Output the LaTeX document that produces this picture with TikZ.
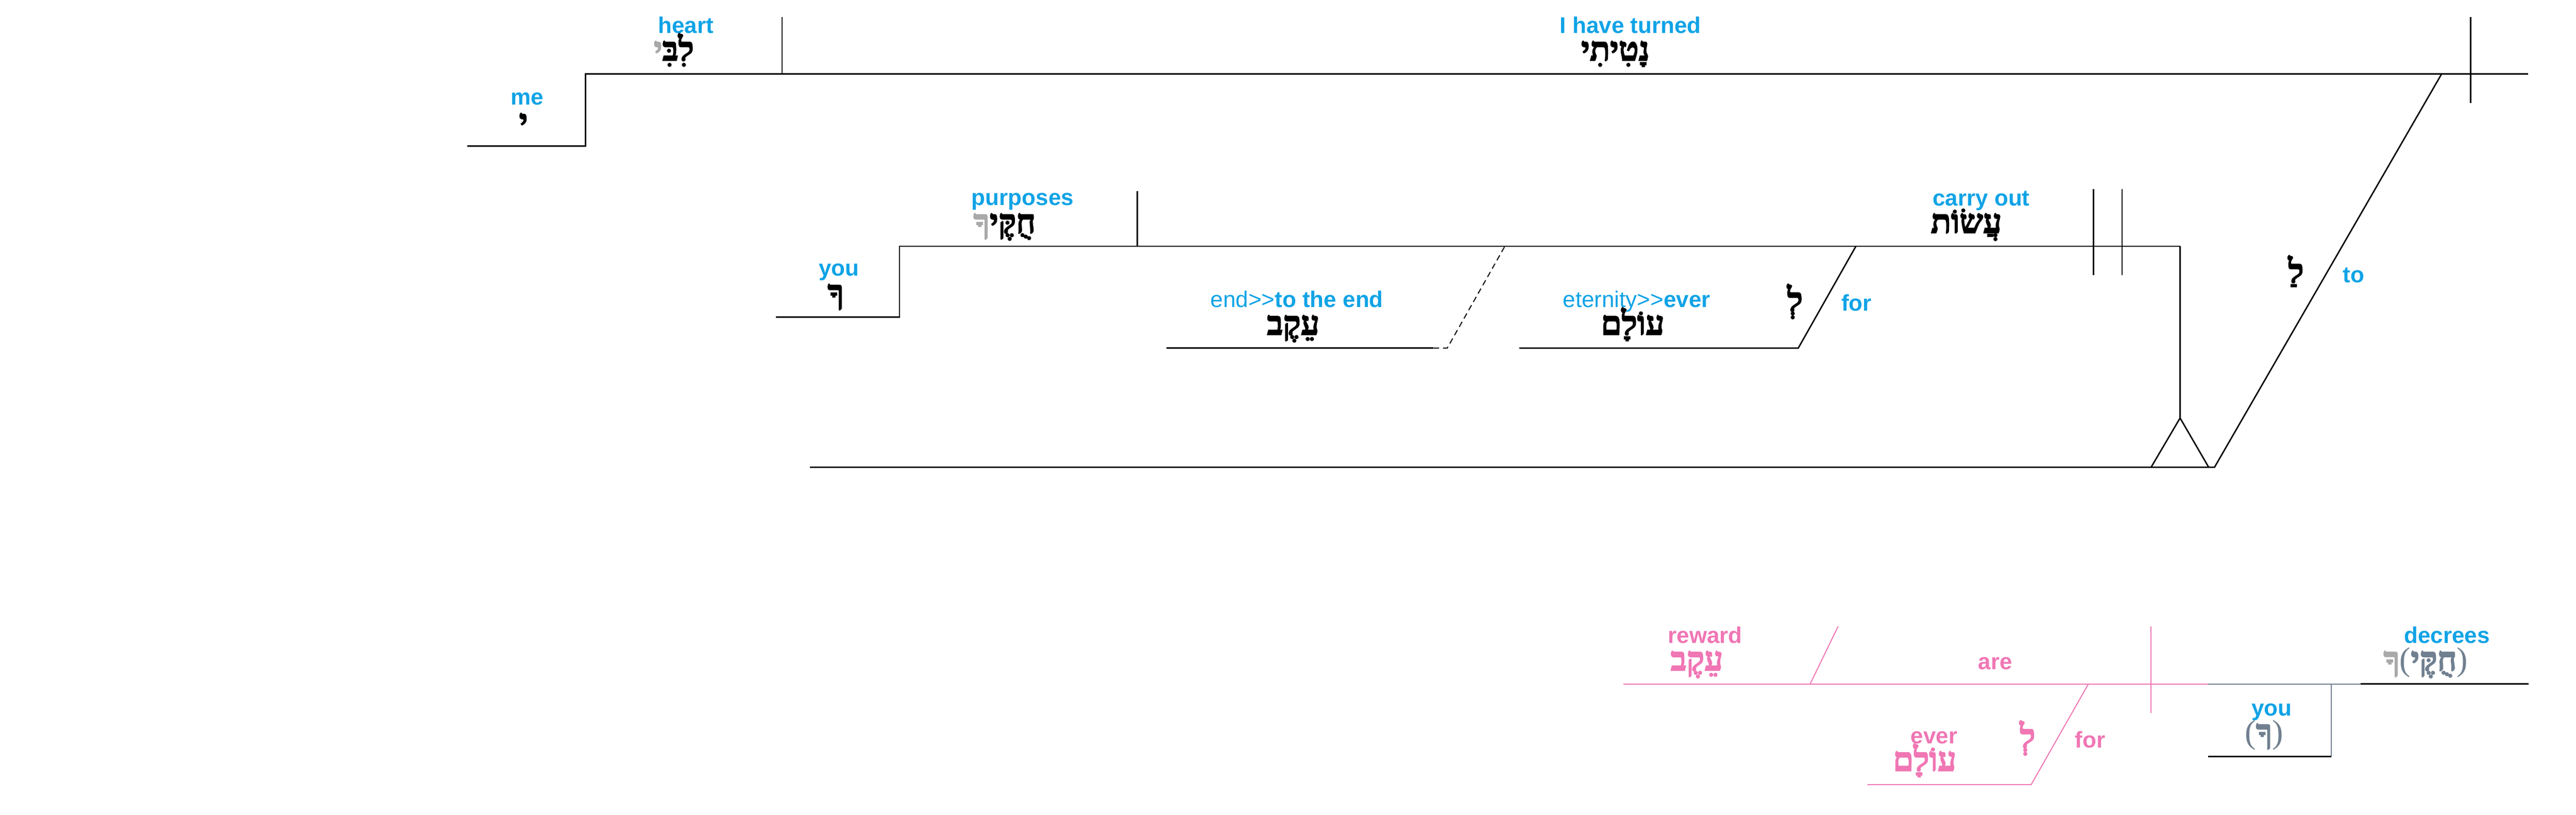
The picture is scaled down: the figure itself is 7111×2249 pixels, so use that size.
\documentclass[tikz,border=0pt]{standalone}
\usepackage{fontspec}
\setmainfont{Liberation Sans}
\newfontfamily\hebfont[Script=Hebrew,FakeBold=3]{Liberation Serif Bold}
\newfontfamily\parfont{Liberation Serif}
\TeXXeTstate=1
\definecolor{lblue}{RGB}{16,163,230}
\definecolor{lpink}{RGB}{240,118,180}
\definecolor{lslate}{RGB}{112,128,144}
\definecolor{lgray}{RGB}{169,169,169}
\newcommand\heb[1]{{\hebfont\beginR#1\endR}}
\newcommand\lpar{{\parfont(}}
\newcommand\rpar{{\parfont)}}
\tikzset{
  en/.style={anchor=base, inner sep=0pt, text=lblue, font=\fontsize{17.8}{20}\selectfont\bfseries},
  enpk/.style={en, text=lpink},
  he/.style={anchor=base, inner sep=0pt, font=\fontsize{26}{30}\selectfont},
  hepk/.style={he, text=lpink},
  ln/.style={line width=1.1pt, black},
  pk/.style={line width=0.8pt, lpink},
  sl/.style={line width=0.8pt, lslate},
  dsh/.style={line width=0.8pt, black, dash pattern=on 4.5pt off 3pt}
}
\begin{document}
\begin{tikzpicture}[x=0.01cm, y=-0.01cm]
\useasboundingbox (0,0) rectangle (7111,2249);
% ---------- coordinates: top clause ----------
\coordinate (meL) at (1290,403);
\coordinate (meR) at (1616,403);
\coordinate (mainL) at (1616,204);
\coordinate (mainR) at (6978,204);
\coordinate (dvT) at (2159,47);
\coordinate (dvB) at (2159,204);
\coordinate (crT) at (6820,47);
\coordinate (crB) at (6820,284);
\coordinate (toT) at (6740,204);
\coordinate (toB) at (6113,1290);
\coordinate (baseL) at (2236,1290);
\coordinate (triL) at (5938,1290);
\coordinate (triA) at (6018,1154);
\coordinate (triR) at (6097,1290);
% ---------- middle clause ----------
\coordinate (youL) at (2142,875);
\coordinate (youR) at (2483,875);
\coordinate (midL) at (2483,680);
\coordinate (midR) at (6018,680);
\coordinate (dv2T) at (3139,527);
\coordinate (dv2B) at (3139,680);
\coordinate (d1T) at (5779,522);
\coordinate (d1B) at (5779,759);
\coordinate (d2T) at (5858,522);
\coordinate (d2B) at (5858,759);
\coordinate (forT) at (5123,680);
\coordinate (forB) at (4964,961);
\coordinate (eterL) at (4194,961);
\coordinate (endL) at (3220,961);
\coordinate (endR) at (3957,961);
\coordinate (dsB) at (3995,961);
\coordinate (dsT) at (4154,680);
% ---------- bottom clause ----------
\coordinate (pkL) at (4481,1888);
\coordinate (pkR) at (6096,1888);
\coordinate (slR) at (6516,1888);
\coordinate (bkR) at (6980,1888);
\coordinate (rwT) at (5074,1729);
\coordinate (rwB) at (4997,1888);
\coordinate (pvT) at (5937,1729);
\coordinate (pvB) at (5937,1968);
\coordinate (f2T) at (5765,1888);
\coordinate (f2B) at (5607,2166);
\coordinate (evL) at (5155,2166);
\coordinate (y2T) at (6436,1888);
\coordinate (y2B) at (6436,2088);
\coordinate (y2L) at (6096,2088);

% ---------- lines ----------
\draw[ln] (meL) -- (meR) -- (mainL) -- (mainR);
\draw[ln] (dvT) -- (dvB);
\draw[ln] (crT) -- (crB);
\draw[ln] (toT) -- (toB) -- (baseL);
\draw[ln] (triL) -- (triA) -- (triR);
\draw[ln] (midR) -- (triA);
\draw[ln] (youL) -- (youR) -- (midL) -- (midR);
\draw[ln] (dv2T) -- (dv2B);
\draw[ln] (d1T) -- (d1B);
\draw[ln] (d2T) -- (d2B);
\draw[ln] (forT) -- (forB) -- (eterL);
\draw[ln] (endL) -- (endR);
\draw[dsh] (endR) -- (dsB) -- (dsT);
\draw[pk] (pkL) -- (pkR);
\draw[sl] (pkR) -- (slR);
\draw[ln] (slR) -- (bkR);
\draw[pk] (rwT) -- (rwB);
\draw[pk] (pvT) -- (pvB);
\draw[pk] (f2T) -- (f2B) -- (evL);
\draw[sl] (y2T) -- (y2B);
\draw[ln] (y2L) -- (y2B);

% ---------- labels: top clause ----------
\node[en] (meEn) at (1455,290) {me};
\node[he] (meHe) at (1445,366) {\heb{י}};
\node[en] (heartEn) at (1893,92) {heart};
\node[he] (heartHe) at (1860,167) {{\color{lgray}\heb{י}}\heb{לִבִּ}};
\node[en] (turnedEn) at (4501,92) {I have turned};
\node[he] (turnedHe) at (4459,167) {\heb{נָטִיתִי}};
\node[he] (toHe) at (6338,780) {\heb{לַ}};
\node[en] (toEn) at (6497,780) {to};
% ---------- middle clause ----------
\node[en] (youEn) at (2316,762) {you};
\node[he] (youHe) at (2307,838) {\heb{ךָ}};
\node[en] (purpEn) at (2823,567) {purposes};
\node[he] (purpHe) at (2773,643) {{\color{lgray}\heb{ךָ}}\heb{חֻקֶּי}};
\node[en] (carryEn) at (5469,568) {carry out};
\node[he] (carryHe) at (5428,643) {\heb{עֲשׂוֹת}};
\node[en] (endEn) at (3580,849) {\mdseries end>\kern0pt>\bfseries to the end};
\node[he] (endHe) at (3570,924) {\heb{עֵקֶב}};
\node[en] (eterEn) at (4518,849) {\mdseries eternity>\kern0pt>\bfseries ever};
\node[he] (eterHe) at (4507,924) {\heb{עוֹלָם}};
\node[he] (forHe) at (4955,859) {\heb{לְ}};
\node[en] (forEn) at (5125,859) {for};
% ---------- bottom clause ----------
\node[enpk] (rewEn) at (4707,1776) {reward};
\node[hepk] (rewHe) at (4684,1851) {\heb{עֵקֶב}};
\node[enpk] (areEn) at (5508,1848) {are};
\node[enpk] (everEn) at (5339,2053) {ever};
\node[hepk] (everHe) at (5313,2128) {\heb{עוֹלָם}};
\node[hepk] (for2He) at (5597,2064) {\heb{לְ}};
\node[enpk] (for2En) at (5770,2064) {for};
\node[en] (decEn) at (6755,1776) {decrees};
\node[he] (decHe) at (6696,1851) {{\color{lgray}\heb{ךָ}}{\color{lslate}\lpar\heb{חֻקֶּי}\rpar}};
\node[en] (you2En) at (6271,1976) {you};
\node[he, text=lslate] (you2He) at (6250,2051) {\lpar\heb{ךָ}\rpar};
\end{tikzpicture}
\end{document}
